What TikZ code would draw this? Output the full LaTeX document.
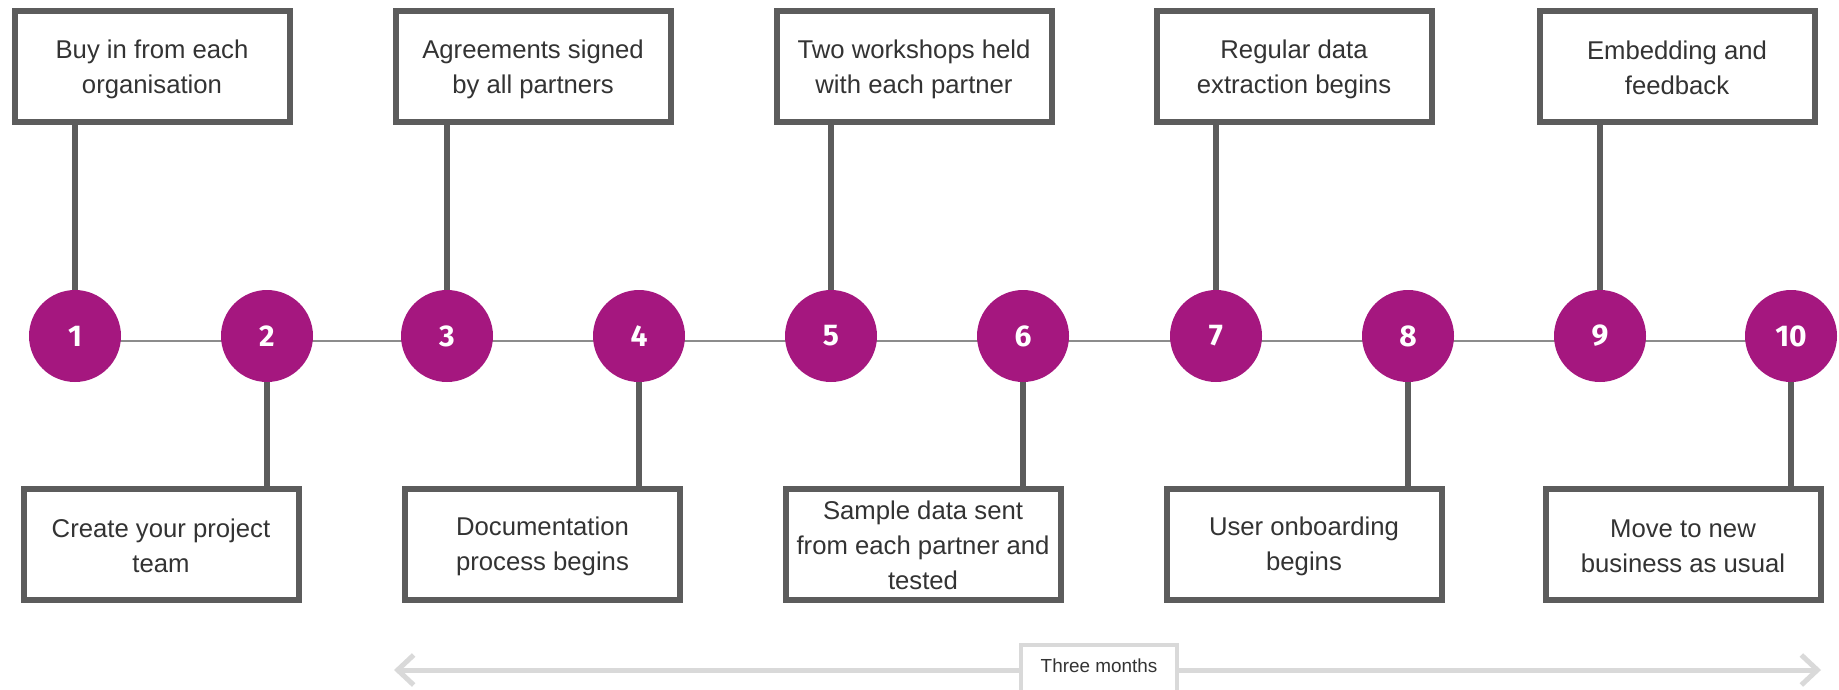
\documentclass[tikz,border=0pt]{standalone}
\usepackage{fontspec}
\setmainfont{Liberation Sans}
\newfontfamily\numfont{Fira Sans}
\usetikzlibrary{arrows.meta,backgrounds}
\definecolor{plum}{RGB}{165,23,127}
\definecolor{edgegray}{RGB}{92,92,92}
\definecolor{txtgray}{RGB}{51,51,51}
\definecolor{linegray}{RGB}{140,140,140}
\definecolor{palegray}{RGB}{217,217,217}
\newcommand\evenline{\rule[-3pt]{0pt}{27pt}}
\begin{document}
\begin{tikzpicture}[x=1pt,y=-1pt,
  stepbox/.style={draw=edgegray,line width=6pt,fill=white,minimum width=275pt,minimum height=111pt,
    align=center,text=txtgray,font=\fontsize{25.7}{35}\selectfont,inner sep=0pt},
  dot/.style={circle,fill=plum,minimum size=92pt,inner sep=0pt,text=white,
    font=\numfont\bfseries\fontsize{30}{30}\selectfont},
  link/.style={draw=edgegray,line width=6pt},
  axis/.style={draw=linegray,line width=2.5pt},
  span/.style={draw=palegray,line width=5pt,{Straight Barb[length=16pt,width=30pt,line width=5pt]}-{Straight Barb[length=16pt,width=30pt,line width=5pt]}},
  tag/.style={draw=palegray,line width=4pt,fill=white,minimum width=156pt,minimum height=60pt,
    text depth=20pt,inner sep=0pt,text=txtgray,font=\fontsize{18.9}{22}\selectfont}
]
\useasboundingbox (0,0) rectangle (1839,689);

% circles
\node[dot] (c1) at (75,336) {1};
\node[dot] (c2) at (267,336) {2};
\node[dot] (c3) at (447,336) {3};
\node[dot] (c4) at (639,336) {4};
\node[dot] (c5) at (831,336) {5};
\node[dot] (c6) at (1023,336) {6};
\node[dot] (c7) at (1216,336) {7};
\node[dot] (c8) at (1408,336) {8};
\node[dot] (c9) at (1600,336) {9};
\node[dot] (c10) at (1791,336) {10};

% top boxes
\node[stepbox] (t1) at (152,66.5) {Buy in from each\evenline\\organisation\evenline};
\node[stepbox] (t3) at (533,66.5) {Agreements signed\evenline\\by all partners\evenline};
\node[stepbox] (t5) at (914,66.5) {Two workshops held\evenline\\with each partner\evenline};
\node[stepbox] (t7) at (1294,66.5) {Regular data\evenline\\extraction begins\evenline};
\node[stepbox] (t9) at (1677,66.5) {Embedding and\evenline\\feedback\evenline};

% bottom boxes
\node[stepbox] (b2) at (161,544) {Create your project\evenline\\team\evenline};
\node[stepbox] (b4) at (542.5,544) {Documentation\evenline\\process begins\evenline};
\node[stepbox] (b6) at (923,544) {Sample data sent\evenline\\from each partner and\evenline\\tested\evenline};
\node[stepbox] (b8) at (1304,544) {User onboarding\evenline\\begins\evenline};
\node[stepbox] (b10) at (1683,544) {Move to new\evenline\\business as usual\evenline};

\begin{scope}[on background layer]
  \draw[axis] ([yshift=-5pt]c1.center) -- ([yshift=-5pt]c10.center);
  \draw[link] (c1.north) -- (c1 |- t1.south);
  \draw[link] (c3.north) -- (c3 |- t3.south);
  \draw[link] (c5.north) -- (c5 |- t5.south);
  \draw[link] (c7.north) -- (c7 |- t7.south);
  \draw[link] (c9.north) -- (c9 |- t9.south);
  \draw[link] (c2.south) -- (c2 |- b2.north);
  \draw[link] (c4.south) -- (c4 |- b4.north);
  \draw[link] (c6.south) -- (c6 |- b6.north);
  \draw[link] (c8.south) -- (c8 |- b8.north);
  \draw[link] (c10.south) -- (c10 |- b10.north);
\end{scope}

% duration arrow
\coordinate (al) at (394,670);
\coordinate (ar) at (1821,670);
\draw[span] (al) -- (ar);
\node[tag,anchor=base] (months) at (1099,672) {Three months};
\end{tikzpicture}
\end{document}
